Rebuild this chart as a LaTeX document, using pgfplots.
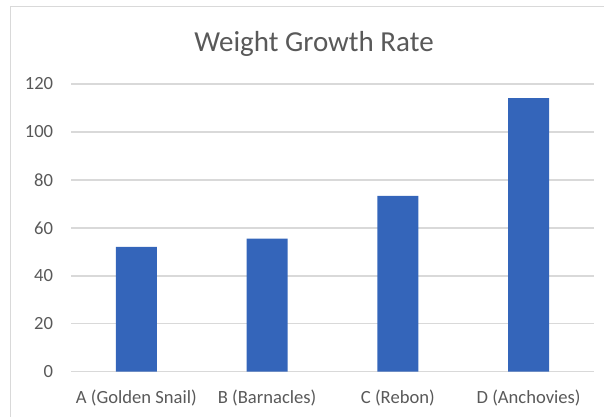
\documentclass[border=0pt]{standalone}
\usepackage{fontspec}
\setmainfont{Carlito}
\usepackage{pgfplots}
\pgfplotsset{compat=1.18}
\definecolor{barblue}{RGB}{52,101,186}
\definecolor{gridgray}{RGB}{217,217,217}
\definecolor{textgray}{RGB}{89,89,89}

\begin{document}
\begin{tikzpicture}
\path[use as bounding box] (0,0) rectangle (604bp,417bp);
% chart frame (left and top edges visible in the screenshot)
\draw[gridgray, line width=1bp] (10bp,0) -- (10bp,410bp) -- (604bp,410bp);
\node[anchor=base, text=textgray, font=\fontsize{29bp}{34bp}\selectfont]
  at (314bp,365.3bp) {Weight Growth Rate};
\begin{axis}[
    at={(71bp,45.3bp)}, anchor=south west,
    scale only axis, width=523bp, height=287.7bp,
    xmin=-0.5, xmax=3.5, ymin=0, ymax=120,
    ytick={0,20,...,120},
    xtick={0,1,2,3},
    xticklabels={A (Golden Snail), B (Barnacles), C (Rebon), D (Anchovies)},
    axis line style={draw=none},
    tick style={draw=none},
    ymajorgrids,
    major grid style={gridgray, line width=1.5bp},
    tick label style={text=textgray, font=\fontsize{18.6bp}{22bp}\selectfont},
    /pgf/number format/assume math mode=true,
    yticklabel style={anchor=east, inner sep=0pt, xshift=-17.7bp},
    xticklabel style={anchor=base, inner sep=0pt, yshift=-31.3bp},
]
\addplot[ybar, bar width=41bp, fill=barblue, draw=none] coordinates {
    (0,52.1) (1,55.5) (2,73.3) (3,114.1)
};
\end{axis}
\end{tikzpicture}
\end{document}
